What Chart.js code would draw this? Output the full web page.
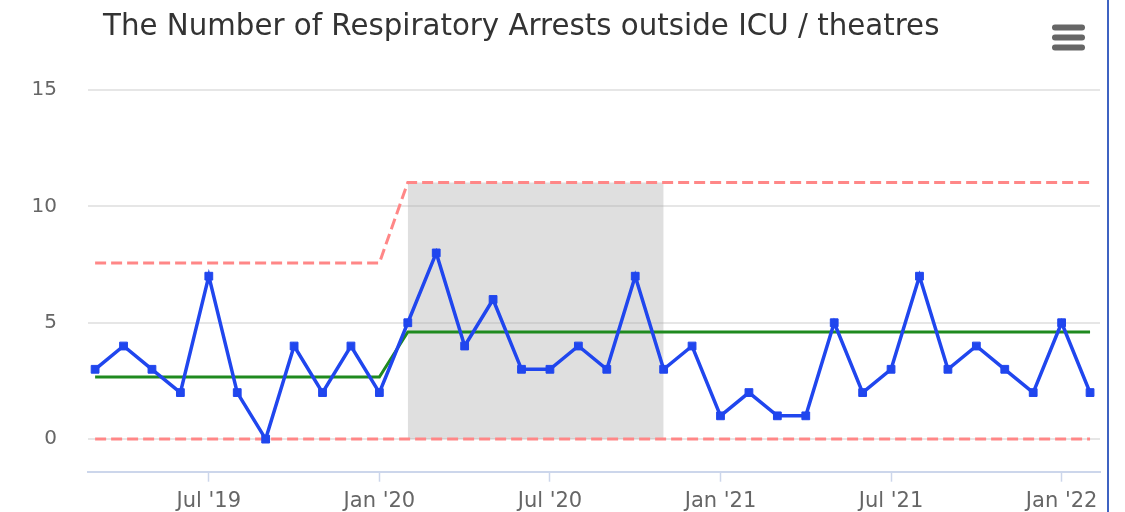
<!DOCTYPE html>
<html>
<head>
<meta charset="utf-8">
<script src="https://cdn.jsdelivr.net/npm/chart.js@4"></script>
<style>
    body { margin: 0; background: #fff; }
    #wrap { width: 1107px; height: 512px; border-right: 2px solid #3f63c2; position: relative; }
</style>
</head>
<body>
<div id="wrap"><canvas id="spcChart" width="1107" height="512"></canvas></div>
<script>
// months from Mar '19 to Feb '22 (index 0..35)
var months = ["Mar '19", "Apr '19", "May '19", "Jun '19", "Jul '19", "Aug '19", "Sep '19", "Oct '19", "Nov '19", "Dec '19",
    "Jan '20", "Feb '20", "Mar '20", "Apr '20", "May '20", "Jun '20", "Jul '20", "Aug '20", "Sep '20", "Oct '20", "Nov '20", "Dec '20",
    "Jan '21", "Feb '21", "Mar '21", "Apr '21", "May '21", "Jun '21", "Jul '21", "Aug '21", "Sep '21", "Oct '21", "Nov '21", "Dec '21",
    "Jan '22", "Feb '22"];
var arrests = [3, 4, 3, 2, 7, 2, 0, 4, 2, 4, 2, 5, 8, 4, 6, 3, 3, 4, 3, 7, 3, 4, 1, 2, 1, 1, 5, 2, 3, 7, 3, 4, 3, 2, 5, 2];
var meanLine = [2.67, 2.67, 2.67, 2.67, 2.67, 2.67, 2.67, 2.67, 2.67, 2.67, 2.67,
    4.6, 4.6, 4.6, 4.6, 4.6, 4.6, 4.6, 4.6, 4.6, 4.6, 4.6, 4.6, 4.6, 4.6, 4.6, 4.6, 4.6, 4.6, 4.6, 4.6, 4.6, 4.6, 4.6, 4.6, 4.6];
var upperLimit = [7.57, 7.57, 7.57, 7.57, 7.57, 7.57, 7.57, 7.57, 7.57, 7.57, 7.57,
    11.03, 11.03, 11.03, 11.03, 11.03, 11.03, 11.03, 11.03, 11.03, 11.03, 11.03, 11.03, 11.03, 11.03, 11.03, 11.03, 11.03, 11.03, 11.03, 11.03, 11.03, 11.03, 11.03, 11.03, 11.03];
var lowerLimit = [0, 0, 0, 0, 0, 0, 0, 0, 0, 0, 0, 0, 0, 0, 0, 0, 0, 0, 0, 0, 0, 0, 0, 0, 0, 0, 0, 0, 0, 0, 0, 0, 0, 0, 0, 0];
// baseline period shaded (Feb '20 - Nov '20)
var baselineStart = 11;
var baselineEnd = 20;
var xTickIndex = [4, 10, 16, 22, 28, 34];
var yTicks = [0, 5, 10, 15];
var chartTitle = "The Number of Respiratory Arrests outside ICU / theatres";

function toPoints(arr) {
    return arr.map(function(v, i) { return { x: i, y: v }; });
}

var bandData = upperLimit.map(function(v, i) {
    return { x: i, y: (i >= baselineStart && i <= baselineEnd) ? v : null };
});

// title + menu icon
var decorPlugin = {
    id: "decor",
    afterDraw: function(chart) {
        var ctx = chart.ctx;
        ctx.save();
        ctx.fillStyle = "#333333";
        ctx.font = "29.3px 'DejaVu Sans'";
        ctx.textBaseline = "alphabetic";
        ctx.textAlign = "left";
        ctx.fillText(chartTitle, 103, 35);
        ctx.fillStyle = "#666666";
        [27.5, 37.5, 47.5].forEach(function(y) {
            ctx.beginPath();
            ctx.roundRect(1052, y - 3, 33, 6, 3);
            ctx.fill();
        });
        ctx.restore();
    }
};

var ctx = document.getElementById("spcChart").getContext("2d");
var chart = new Chart(ctx, {
    type: "line",
    data: {
        datasets: [
            {
                label: "Respiratory arrests",
                data: toPoints(arrests),
                borderColor: "#2046ee",
                backgroundColor: "#2046ee",
                borderWidth: 3.5,
                pointStyle: "rect",
                pointRadius: 5.5,
                pointBorderWidth: 1,
                tension: 0,
                order: 0
            },
            {
                label: "Mean",
                data: toPoints(meanLine),
                borderColor: "#1f8a1f",
                borderWidth: 3,
                pointRadius: 0,
                order: 1
            },
            {
                label: "Upper limit",
                data: toPoints(upperLimit),
                borderColor: "#ff8787",
                borderWidth: 3,
                borderDash: [11, 5],
                pointRadius: 0,
                order: 2
            },
            {
                label: "Lower limit",
                data: toPoints(lowerLimit),
                borderColor: "#ff8787",
                borderWidth: 3,
                borderDash: [11, 5],
                pointRadius: 0,
                order: 2
            },
            {
                label: "Baseline",
                data: bandData,
                borderWidth: 0,
                borderColor: "rgba(0,0,0,0)",
                backgroundColor: "rgba(170,170,170,0.38)",
                fill: "origin",
                pointRadius: 0,
                spanGaps: false,
                order: 5
            }
        ]
    },
    options: {
        responsive: false,
        animation: false,
        layout: { padding: { top: 90, right: 7, left: 0, bottom: 0 } },
        plugins: {
            legend: { display: false },
            tooltip: { enabled: false },
            title: { display: false }
        },
        scales: {
            x: {
                type: "linear",
                min: -0.25,
                max: 35.35,
                afterBuildTicks: function(axis) {
                    axis.ticks = xTickIndex.map(function(v) { return { value: v }; });
                },
                afterFit: function(axis) { axis.height = 40.3; },
                ticks: {
                    autoSkip: false,
                    maxRotation: 0,
                    padding: 7,
                    color: "#666666",
                    font: { family: "'DejaVu Sans'", size: 21 },
                    callback: function(v) { return months[v]; }
                },
                grid: {
                    drawOnChartArea: false,
                    drawTicks: true,
                    tickLength: 10,
                    tickColor: "#ccd6eb",
                    tickWidth: 1.5
                },
                border: { display: true, color: "#ccd6eb", width: 2 }
            },
            y: {
                min: -1.4,
                max: 15,
                afterBuildTicks: function(axis) {
                    axis.ticks = yTicks.map(function(v) { return { value: v }; });
                },
                afterFit: function(axis) {
                    axis.width = 88;
                    axis.paddingTop = 0;
                    axis.paddingBottom = 0;
                },
                ticks: {
                    padding: 31,
                    color: "#666666",
                    font: { family: "'DejaVu Sans'", size: 20 }
                },
                grid: {
                    color: "#e6e6e6",
                    lineWidth: 2,
                    drawTicks: false
                },
                border: { display: false }
            }
        }
    },
    plugins: [decorPlugin]
});
</script>
</body>
</html>
